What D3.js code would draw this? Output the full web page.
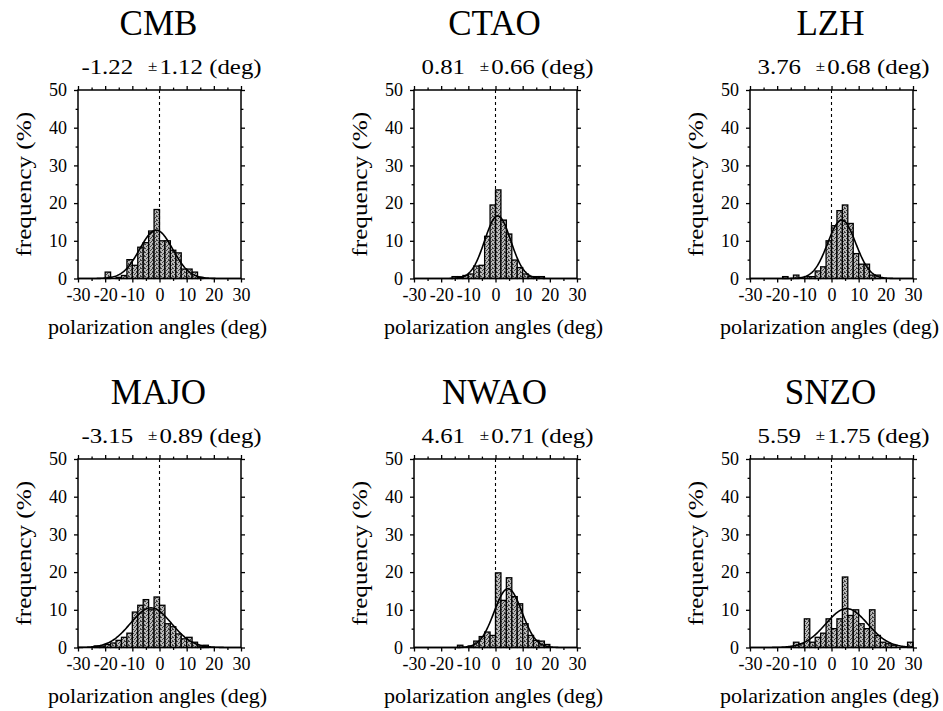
<!DOCTYPE html>
<html>
<head>
<meta charset="utf-8">
<script src="https://cdn.jsdelivr.net/npm/d3@7"></script>
<style>
  body { margin: 0; background: #fff; }
  svg text { font-family: "Liberation Serif", "Times New Roman", Times, serif; fill: #000; }
</style>
</head>
<body>
<svg id="chart" width="943" height="711"></svg>
<script>
// Stations and their fitted polarization-angle statistics
const stations   = ["CMB", "CTAO", "LZH", "MAJO", "NWAO", "SNZO"];
const meanAngles = [-1.22, 0.81, 3.76, -3.15, 4.61, 5.59];
const meanErrors = [1.12, 0.66, 0.68, 0.89, 0.71, 1.75];
// Gaussian fit: peak height (%) and spread (deg)
const fitPeaks   = [12.8, 16.6, 15.5, 10.5, 15.6, 10.3];
const fitSigmas  = [6.1, 4.8, 5.15, 7.6, 5.1, 7.75];

// Left edges of the 2-degree histogram bins
const binLefts = [-30, -28, -26, -24, -22, -20, -18, -16, -14, -12, -10, -8, -6, -4, -2,
                  0, 2, 4, 6, 8, 10, 12, 14, 16, 18, 20, 22, 24, 26, 28];
const binWidth = 2;

// Frequency (%) per bin
const freqCMB  = [0, 0, 0, 0, 0, 1.7, 0, 0.3, 0.8, 5.0, 3.5, 8.3, 9.5, 12.6, 18.3,
                  10.0, 10.0, 7.5, 6.8, 2.5, 2.5, 1.7, 0.3, 0, 0, 0, 0, 0, 0, 0];
const freqCTAO = [0, 0, 0, 0, 0, 0, 0, 0.5, 0.5, 0.8, 1.2, 3.3, 3.5, 11.2, 19.5,
                  23.5, 15.5, 11.8, 4.9, 2.9, 1.2, 0.5, 0.5, 0.5, 0, 0, 0, 0, 0, 0];
const freqLZH  = [0, 0, 0, 0, 0, 0, 0.5, 0, 0.9, 0, 0.5, 0.5, 2.0, 3.1, 10.0,
                  14.0, 18.0, 19.5, 14.6, 6.6, 3.8, 3.8, 0.9, 0.9, 0, 0, 0, 0, 0, 0];
const freqMAJO = [0, 0, 0, 0.4, 0.4, 0.8, 1.2, 1.9, 2.7, 3.8, 9.4, 11.2, 12.7, 10.0, 13.4,
                  11.2, 6.3, 5.5, 3.6, 2.3, 2.7, 1.4, 0.4, 0.6, 0, 0, 0, 0, 0, 0];
const freqNWAO = [0, 0, 0, 0, 0, 0, 0, 0, 0.6, 0, 0.4, 1.7, 2.9, 4.1, 3.2,
                  19.8, 12.5, 18.5, 13.5, 11.6, 6.3, 3.2, 1.9, 1.7, 0.8, 0, 0, 0, 0, 0];
const freqSNZO = [0, 0, 0, 0, 0, 0, 0, 0, 1.4, 1.0, 7.6, 1.4, 2.7, 3.8, 7.6,
                  5.0, 7.6, 18.7, 8.5, 10.0, 6.3, 5.0, 10.0, 3.2, 1.4, 1.0, 0.6, 0, 0, 1.4];
const frequencies = [freqCMB, freqCTAO, freqLZH, freqMAJO, freqNWAO, freqSNZO];

// Axis ticks
const xTickLabels = [-30, -20, -10, 0, 10, 20, 30];
const yTickLabels = [0, 10, 20, 30, 40, 50];

const FONT = "'Liberation Serif', 'Times New Roman', Times, serif";
const svg = d3.select("#chart");

// Stippled fill for the histogram bars
const defs = svg.append("defs");
const pat = defs.append("pattern")
  .attr("id", "stipple").attr("width", 4).attr("height", 4)
  .attr("patternUnits", "userSpaceOnUse");
pat.append("rect").attr("width", 4).attr("height", 4).attr("fill", "#b8b8b8");
[[0, 0, 1, 1], [2, 1, 1, 2], [1, 3, 1, 1], [3, 2, 1, 1]].forEach(([x, y, w, h]) =>
  pat.append("rect").attr("x", x).attr("y", y).attr("width", w).attr("height", h).attr("fill", "#404040"));

const colX = [78, 414, 750];
const rowY = [90, 459];
const pw = 163, ph = 188.5;

stations.forEach((name, i) => {
  const x0 = colX[i % 3], y0 = rowY[Math.floor(i / 3)];
  const g = svg.append("g").attr("transform", `translate(${x0},${y0})`);

  const x = d3.scaleLinear().domain([-30, 30]).range([0, pw]);
  const y = d3.scaleLinear().domain([0, 50]).range([ph, 0]);

  // Histogram bars
  const bins = binLefts.map((b, k) => ({ x: b, v: frequencies[i][k] })).filter(d => d.v > 0);
  g.selectAll("rect.bar").data(bins).join("rect")
    .attr("class", "bar")
    .attr("x", d => x(d.x))
    .attr("width", d => x(d.x + binWidth) - x(d.x))
    .attr("y", d => y(d.v))
    .attr("height", d => y(0) - y(d.v))
    .attr("fill", "url(#stipple)")
    .attr("stroke", "#000")
    .attr("stroke-width", 1.3);

  // Fitted Gaussian
  const mu = meanAngles[i], sd = fitSigmas[i], pk = fitPeaks[i];
  const xs = d3.range(-30, 30.001, 0.25);
  const line = d3.line().x(t => x(t)).y(t => y(pk * Math.exp(-((t - mu) ** 2) / (2 * sd * sd))));
  g.append("path").datum(xs).attr("d", line)
    .attr("fill", "none").attr("stroke", "#000").attr("stroke-width", 1.6);

  // Zero reference line
  g.append("line")
    .attr("x1", x(0)).attr("x2", x(0)).attr("y1", 0).attr("y2", ph)
    .attr("stroke", "#000").attr("stroke-width", 1.1).attr("stroke-dasharray", "3,3");

  // Axes on all four sides, ticks pointing outward
  const xMinor = d3.range(-30, 31, 5);
  const yMinor = d3.range(0, 51, 5);
  const xb = d3.axisBottom(x).tickValues(xMinor).tickSize(4)
    .tickFormat(d => xTickLabels.includes(d) ? d : "");
  const xt = d3.axisTop(x).tickValues(xMinor).tickSize(4).tickFormat("");
  const yl = d3.axisLeft(y).tickValues(yMinor).tickSize(4)
    .tickFormat(d => yTickLabels.includes(d) ? d : "");
  const yr = d3.axisRight(y).tickValues(yMinor).tickSize(4).tickFormat("");

  const styleAxis = sel => {
    sel.attr("font-family", null).attr("font-size", null);
    sel.select(".domain").remove();
    sel.selectAll(".tick line").attr("stroke", "#000").attr("stroke-width", 1.3);
    sel.selectAll(".tick text")
      .style("font-family", FONT).style("font-size", "18px").attr("fill", "#000");
  };
  g.append("g").attr("transform", `translate(0,${ph})`).call(xb).call(styleAxis)
    .selectAll(".tick text").attr("y", 10).attr("dy", "0.71em");
  g.append("g").call(xt).call(styleAxis);
  g.append("g").call(yl).call(styleAxis).selectAll(".tick text").attr("x", -11);
  g.append("g").attr("transform", `translate(${pw},0)`).call(yr).call(styleAxis);

  // Shorter minor ticks
  g.selectAll(".tick").filter(d => d % 10 !== 0).select("line").each(function () {
    const l = d3.select(this);
    ["x2", "y2"].forEach(a => { const v = +l.attr(a); if (v) l.attr(a, v * 0.6); });
  });

  // Frame
  g.append("rect").attr("width", pw).attr("height", ph)
    .attr("fill", "none").attr("stroke", "#000").attr("stroke-width", 1.5);

  // Station name
  g.append("text").attr("x", pw / 2 - 1).attr("y", -55)
    .attr("text-anchor", "middle").style("font-size", "35px").text(name);

  // Mean ± error
  const sub = g.append("text")
    .attr("transform", `translate(${pw / 2 + 12},-16) scale(1.13,1)`)
    .attr("text-anchor", "middle").style("font-size", "22px");
  sub.append("tspan").text(meanAngles[i].toFixed(2));
  sub.append("tspan").attr("dx", 13).attr("dy", -3).style("font-size", "15px").text("±");
  sub.append("tspan").attr("dx", 2).attr("dy", 3).text(meanErrors[i].toFixed(2) + " (deg)");

  // Axis titles
  g.append("text")
    .attr("transform", `translate(${pw / 2 - 2},${ph + 55}) scale(1.05,1)`)
    .attr("text-anchor", "middle").style("font-size", "21px")
    .text("polarization angles (deg)");
  g.append("text")
    .attr("transform", `translate(-47,${ph / 2}) rotate(-90) scale(1.2,1)`)
    .attr("text-anchor", "middle").style("font-size", "21px")
    .text("frequency (%)");
});
</script>
</body>
</html>
